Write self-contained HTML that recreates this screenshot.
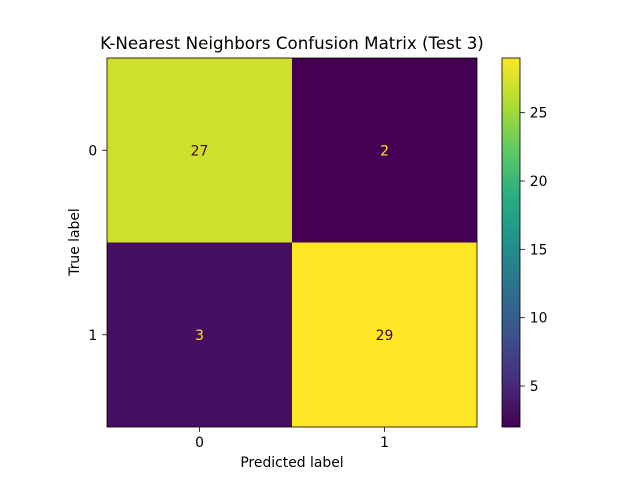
<!DOCTYPE html>
<html><head><meta charset="utf-8"><style>
body{margin:0;background:#fff;width:640px;height:480px;overflow:hidden;font-family:"Liberation Sans","DejaVu Sans",sans-serif}
svg text{font-family:"DejaVu Sans","Liberation Sans",sans-serif}
</style></head><body>
<svg id="chart" width="640" height="480" viewBox="0 0 640 480">
<defs><linearGradient id="vir" x1="0" y1="1" x2="0" y2="0">
<stop offset="0" stop-color="#440154"/><stop offset="0.125" stop-color="#472d7b"/><stop offset="0.25" stop-color="#3b528b"/><stop offset="0.375" stop-color="#2c728e"/><stop offset="0.5" stop-color="#21918c"/><stop offset="0.625" stop-color="#28ae80"/><stop offset="0.75" stop-color="#5ec962"/><stop offset="0.875" stop-color="#addc30"/><stop offset="1" stop-color="#fde725"/>
</linearGradient></defs>
<text x="292" y="49" font-size="16.7" text-anchor="middle">K-Nearest Neighbors Confusion Matrix (Test 3)</text>
<g id="cells"></g>
<rect x="107" y="58" width="370" height="369" fill="none" stroke="#000" stroke-width="0.8"/>
<text x="292" y="467" font-size="13.9" text-anchor="middle">Predicted label</text>
<text x="0" y="0" font-size="13.9" text-anchor="middle" transform="translate(79,242) rotate(-90)">True label</text>
<rect x="502" y="58" width="18" height="369" fill="url(#vir)" stroke="#000" stroke-width="0.8"/>
<g id="cbticks"></g>
</svg>
<script>
const classes=["0","1"];
const values=[[27,2],[3,29]];
const cbTicks=[5,10,15,20,25];
const vmin=2, vmax=29;
const svg="http://www.w3.org/2000/svg";
const X0=107,Y0=58,W=370,H=369,CB=502;
function cell(i){return X0+i*W/classes.length;}
function rowY(i){return Y0+i*H/classes.length;}
function cbY(v){return Y0+H-(v-vmin)/(vmax-vmin)*H;}
const stops=[[0,[68,1,84]],[.125,[71,45,123]],[.25,[59,82,139]],[.375,[44,114,142]],[.5,[33,145,140]],[.625,[40,174,128]],[.75,[94,201,98]],[.875,[173,220,48]],[1,[253,231,37]]];
function vir(t){for(let k=1;k<stops.length;k++){if(t<=stops[k][0]){const a=stops[k-1],b=stops[k],f=(t-a[0])/(b[0]-a[0]);return "rgb("+a[1].map((c,j)=>Math.round(c+f*(b[1][j]-c))).join(",")+")";}}return "rgb(253,231,37)";}
function mk(tag,at,parent){const e=document.createElementNS(svg,tag);for(const k in at)e.setAttribute(k,at[k]);parent.appendChild(e);return e;}
const g=document.getElementById("cells"),root=document.getElementById("chart"),cb=document.getElementById("cbticks");
const cw=W/classes.length,ch=H/classes.length;
for(let r=0;r<classes.length;r++)for(let c=0;c<classes.length;c++){
 const v=values[r][c],t=(v-vmin)/(vmax-vmin);
 const rc=mk("rect",{x:cell(c),y:rowY(r),width:cw,height:ch,fill:vir(t)},g);
 
 
 const tx=mk("text",{x:cell(c)+cw/2,y:rowY(r)+ch/2+5,"font-size":"13.9","text-anchor":"middle",fill:t>0.5?"#440154":"#fde725"},g);
 tx.textContent=v;
 
 
}
classes.forEach((lab,i)=>{
 const x=cell(i)+cw/2;
 mk("line",{x1:x,x2:x,y1:Y0+H,y2:Y0+H+4.9,stroke:"#000","stroke-width":0.8},root);
 const t=mk("text",{x:x,y:Y0+H+20,"font-size":"13.9","text-anchor":"middle"},root);t.textContent=lab;
 
 
 const y=rowY(i)+ch/2;
 mk("line",{x1:X0-4.9,x2:X0,y1:y,y2:y,stroke:"#000","stroke-width":0.8},root);
 const u=mk("text",{x:X0-9.8,y:y+5,"font-size":"13.9","text-anchor":"end"},root);u.textContent=lab;
 
 
});
cbTicks.forEach(v=>{
 const y=cbY(v);
 mk("line",{x1:CB+18,x2:CB+22.9,y1:y,y2:y,stroke:"#000","stroke-width":0.8},cb);
 const t=mk("text",{x:CB+27.8,y:y+5,"font-size":"13.9"},cb);t.textContent=v;
 
 
});
</script>
</body></html>
